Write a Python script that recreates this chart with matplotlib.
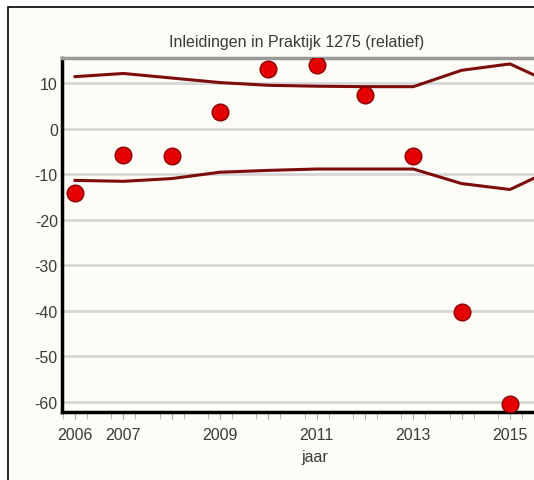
import numpy as np
import matplotlib
matplotlib.use("Agg")
import matplotlib.pyplot as plt
from matplotlib.patches import Rectangle

plt.rcParams['font.family'] = ['Liberation Sans', 'DejaVu Sans']

# values
years = [2006, 2007, 2008, 2009, 2010, 2011, 2012, 2013, 2014, 2015]
relatief = [-14.1, -5.9, -6.1, 3.7, 13.1, 13.9, 7.4, -6.0, -40.4, -60.5]

band_years = [2006, 2007, 2008, 2009, 2010, 2011, 2012, 2013, 2014, 2015, 2016]
upper = [11.4, 12.1, 11.1, 10.1, 9.5, 9.3, 9.2, 9.2, 12.8, 14.2, 9.3]
lower = [-11.4, -11.6, -11.0, -9.6, -9.2, -8.9, -8.9, -8.9, -12.1, -13.4, -8.4]

year_labels = ['2006', '2007', '', '2009', '', '2011', '', '2013', '', '2015', '']
y_ticks = [10, 0, -10, -20, -30, -40, -50, -60]

bg = '#fefcf6'
line_col = '#7d0c0c'
txt = '#3a3a3a'

fig = plt.figure(figsize=(5.34, 4.81), dpi=100, facecolor='white')

# outer chart frame (runs off the right/bottom of the picture)
fig.patches.append(Rectangle((8 / 534, -0.1), 1.2, 0.1 + 1 - 8 / 481,
                             transform=fig.transFigure, facecolor=bg,
                             edgecolor='black', lw=1.2, zorder=-1))

ax = fig.add_axes([62 / 534, 68 / 481, 506 / 534, 354 / 481])
ax.set_facecolor(bg)

ax.set_xlim(2005.73, 2016.2)
ax.set_ylim(-62.3, 15.5)

for v in y_ticks:
    ax.axhline(v, color='#d6d6d6', lw=2, zorder=1)

ax.plot(band_years, upper, color=line_col, lw=2.2, zorder=2)
ax.plot(band_years, lower, color=line_col, lw=2.2, zorder=2)
ax.plot(years, relatief, 'o', ms=12, color='#e40000',
        markeredgecolor='#8a0000', markeredgewidth=1, zorder=3)

ax.set_yticks(y_ticks)
ax.set_yticklabels([str(v) for v in y_ticks], fontsize=11.5, color=txt)
ax.set_xticks(band_years)
ax.set_xticklabels(year_labels, fontsize=11.5, color=txt)
ax.set_xticks(np.arange(2005.75, 2016.2, 0.5), minor=True)
ax.tick_params(axis='y', length=0, pad=3)
ax.tick_params(axis='x', which='both', length=5, color='#aaaaaa', pad=6)

ax.spines['left'].set_linewidth(2.5)
ax.spines['bottom'].set_linewidth(2.5)
ax.spines['top'].set_color('#999999')
ax.spines['top'].set_linewidth(2.5)
ax.spines['right'].set_visible(False)

ax.set_xlabel('jaar', fontsize=11.5, color=txt, labelpad=5)
fig.text(297 / 534, 1 - 42 / 481, 'Inleidingen in Praktijk 1275 (relatief)',
         ha='center', va='center', fontsize=11.5, color=txt)

fig.savefig('out.png', dpi=100, facecolor='white')
